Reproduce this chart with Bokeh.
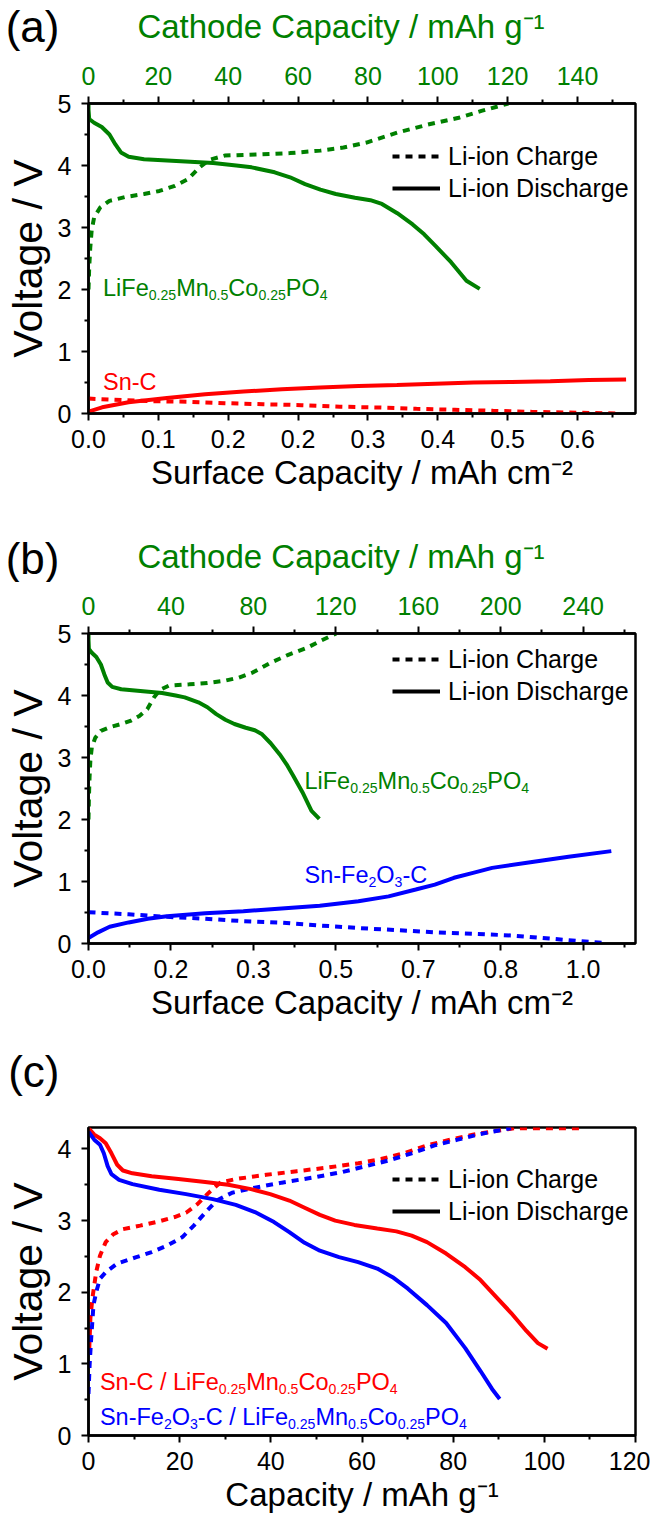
from bokeh.plotting import figure
from bokeh.models import (Range1d, LinearAxis, FixedTicker, PrintfTickFormatter,
                          Label, Legend, LegendItem)
from bokeh.layouts import column
from bokeh.embed import file_html
from bokeh.resources import INLINE

FONT = "Liberation Sans"
GREEN, RED, BLUE = "#008000", "#FF0000", "#0000FF"

# conversion: surface capacity (mAh cm-2) per cathode capacity (mAh g-1)
F = 0.0041

# ---------------- data ----------------
# LiFe0.25Mn0.5Co0.25PO4 half cell (cathode capacity, mAh g-1)
GREEN_DIS_X = [0, 0, 0.2, 1.6, 3.8, 6.0, 7.7, 9.3, 11.5, 15.9, 22.5, 29.1, 35.7, 42.3, 46.7, 53.3,
               57.7, 62.0, 66.4, 70.8, 76.3, 80.7, 84.0, 88.4, 92.8, 96.1, 99.4, 103.8, 108.2, 112.0]
GREEN_DIS_V = [5.0, 4.9, 4.75, 4.69, 4.62, 4.50, 4.34, 4.21, 4.14, 4.10, 4.08, 4.06, 4.04, 4.00, 3.97, 3.89,
               3.81, 3.70, 3.61, 3.54, 3.48, 3.44, 3.38, 3.23, 3.05, 2.89, 2.70, 2.44, 2.14, 2.01]
GREEN_CHG_X = [0, 0.2, 0.5, 0.9, 1.6, 3.3, 6.0, 10.4, 15.9, 20.3, 24.7, 28.5, 31.8, 34.6, 39.0, 48.9,
               57.7, 66.4, 73.0, 79.6, 88.4, 97.2, 106.0, 112.5, 120.2]
GREEN_CHG_V = [2.0, 2.35, 2.67, 2.95, 3.16, 3.32, 3.43, 3.49, 3.54, 3.59, 3.67, 3.78, 3.97, 4.09, 4.16, 4.18,
               4.20, 4.24, 4.29, 4.37, 4.53, 4.66, 4.77, 4.88, 5.0]

# Sn-C half cell (surface capacity, mAh cm-2)
SNC_DIS_X = [0, 0.016, 0.047, 0.092, 0.137, 0.182, 0.227, 0.272, 0.317, 0.362, 0.407, 0.452, 0.497,
             0.542, 0.587, 0.631]
SNC_DIS_V = [0.03, 0.10, 0.18, 0.25, 0.31, 0.355, 0.39, 0.42, 0.445, 0.46, 0.48, 0.50, 0.51, 0.52, 0.54, 0.55]
SNC_CHG_X = [0, 0.025, 0.07, 0.115, 0.16, 0.205, 0.25, 0.295, 0.34, 0.385, 0.43, 0.475, 0.52, 0.565, 0.619]
SNC_CHG_V = [0.24, 0.225, 0.20, 0.19, 0.167, 0.15, 0.135, 0.11, 0.097, 0.075, 0.06, 0.043, 0.027, 0.016, 0.0]

# Sn-Fe2O3-C half cell (surface capacity, mAh cm-2)
SFC_DIS_X = [0, 0.019, 0.042, 0.08, 0.118, 0.156, 0.232, 0.308, 0.384, 0.46, 0.537, 0.597, 0.651, 0.689,
             0.727, 0.765, 0.803, 0.879, 0.955, 1.04]
SFC_DIS_V = [0.09, 0.18, 0.27, 0.34, 0.40, 0.44, 0.486, 0.52, 0.565, 0.61, 0.68, 0.76, 0.87, 0.95,
             1.06, 1.14, 1.22, 1.31, 1.40, 1.49]
SFC_CHG_X = [0, 0.08, 0.156, 0.232, 0.308, 0.384, 0.46, 0.537, 0.613, 0.689, 0.765, 0.841, 0.917, 0.978, 1.023]
SFC_CHG_V = [0.505, 0.47, 0.43, 0.40, 0.36, 0.335, 0.29, 0.25, 0.215, 0.18, 0.156, 0.13, 0.08, 0.038, 0.01]

# Full cells (capacity, mAh g-1)
FC1_DIS_X = [0, 1.26, 2.52, 3.78, 5.03, 6.29, 7.55, 9.65, 13.85, 19.72, 25.59, 30.63, 35.66, 39.86, 44.05,
             47.41, 50.76, 54.12, 58.32, 63.35, 67.55, 70.9, 74.26, 78.45, 82.65, 86.0, 89.36, 92.72, 96.07,
             98.59, 100.7]
FC1_DIS_V = [4.29, 4.20, 4.15, 4.08, 3.94, 3.78, 3.70, 3.66, 3.62, 3.58, 3.54, 3.50, 3.44, 3.37, 3.28,
             3.18, 3.08, 3.00, 2.94, 2.89, 2.85, 2.79, 2.70, 2.54, 2.35, 2.17, 1.94, 1.71, 1.46, 1.29, 1.21]
FC1_CHG_X = [0.17, 0.42, 0.84, 1.68, 2.52, 3.78, 5.45, 7.55, 11.33, 15.5, 18.9, 21.4, 23.9, 26.4, 28.9,
             32.3, 39.0, 45.7, 52.4, 59.2, 64.2, 69.2, 74.3, 79.3, 84.3, 90.2, 93.6, 107.8]
FC1_CHG_V = [1.22, 1.64, 1.91, 2.28, 2.51, 2.70, 2.81, 2.88, 2.93, 2.99, 3.05, 3.11, 3.23, 3.39, 3.53,
             3.58, 3.64, 3.69, 3.74, 3.80, 3.86, 3.94, 4.05, 4.13, 4.20, 4.26, 4.29, 4.29]
FC2_DIS_X = [0, 1.26, 2.52, 3.36, 4.2, 5.03, 6.71, 9.65, 15.52, 21.4, 27.27, 32.31, 36.5, 40.7, 44.05,
             47.41, 50.76, 54.96, 59.16, 63.35, 66.71, 70.07, 74.26, 78.45, 82.65, 86.0, 88.53, 90.21]
FC2_DIS_V = [4.24, 4.13, 4.06, 3.94, 3.76, 3.65, 3.57, 3.51, 3.43, 3.37, 3.30, 3.22, 3.12, 2.98, 2.84,
             2.69, 2.58, 2.49, 2.42, 2.33, 2.21, 2.05, 1.82, 1.57, 1.22, 0.90, 0.65, 0.51]
FC2_CHG_X = [0, 0.25, 0.59, 1.09, 1.68, 2.52, 3.78, 6.29, 10.5, 13.85, 17.2, 20.6, 23.1, 25.6, 28.1, 31.5,
             36.5, 42.4, 49.1, 55.8, 60.8, 65.9, 70.9, 75.9, 81.0, 86.0, 91.0, 92.7]
FC2_CHG_V = [0.58, 0.99, 1.36, 1.82, 2.0, 2.19, 2.28, 2.40, 2.49, 2.56, 2.65, 2.77, 2.93, 3.11, 3.28, 3.39,
             3.46, 3.53, 3.60, 3.68, 3.76, 3.84, 3.94, 4.05, 4.13, 4.21, 4.27, 4.29]

# axes
A_CATH_MAX = 156.6
B_CATH_MAX = 265.4
A_TOP_TICKS = [0, 20, 40, 60, 80, 100, 120, 140]
A_TOP_MINOR = [10, 30, 50, 70, 90, 110, 130, 150]
B_TOP_TICKS = [0, 40, 80, 120, 160, 200, 240]
B_TOP_MINOR = [20, 60, 100, 140, 180, 220, 260]
V_TICKS_AB = [0, 1, 2, 3, 4, 5]
V_MINOR_AB = [0.5, 1.5, 2.5, 3.5, 4.5]
C_X_TICKS = [0, 20, 40, 60, 80, 100, 120]
C_X_MINOR = [10, 30, 50, 70, 90, 110]
C_V_TICKS = [0, 1, 2, 3, 4]
C_V_MINOR = [0.5, 1.5, 2.5, 3.5]

CATHODE = [("LiFe", 0), ("0.25", 1), ("Mn", 0), ("0.5", 1), ("Co", 0), ("0.25", 1), ("PO", 0), ("4", 1)]
TOP_TITLE = "Cathode Capacity / mAh g\u207b\u00b9"

# Arial / Liberation Sans advance widths (1/1000 em)
WID = {" ": 278, "-": 333, ".": 278, "/": 278, "C": 722, "F": 611, "L": 556, "M": 833, "O": 778,
       "P": 667, "S": 667, "a": 556, "c": 500, "e": 556, "i": 222, "n": 556, "o": 556}

LW = 4
DASH = "7 6"
NAN = float("nan")
W = 650
BL, BR = 88, 15   # left / right borders shared by every strip (frames line up in the column)


def tw(s, size):
    return sum(WID.get(c, 556) for c in s) / 1000.0 * size


def rich_label(p, x, y, parts, color, size=23.5, sub_ratio=0.6, drop=7):
    off = 0.0
    for txt, sub in parts:
        fs = size * sub_ratio if sub else size
        p.add_layout(Label(x=x, y=y, x_offset=off, y_offset=-drop if sub else 0, text=txt,
                           text_color=color, text_font=FONT, text_font_size=f"{fs:.1f}px",
                           text_align="left", text_baseline="alphabetic"))
        off += tw(txt, fs)


def style_axis(ax, label, color="black", ticks=None, minor=None, size="33px"):
    ax.axis_label = label
    ax.axis_label_text_font = FONT
    ax.axis_label_text_font_style = "normal"
    ax.axis_label_text_font_size = size
    ax.axis_label_text_color = color
    ax.major_label_text_font = FONT
    ax.major_label_text_font_size = "25px"
    ax.major_label_text_color = color
    ax.axis_line_width = 2.5
    ax.major_tick_line_width = 2
    ax.minor_tick_line_width = 2
    ax.major_tick_in = 0
    ax.major_tick_out = 7
    ax.minor_tick_in = 0
    ax.minor_tick_out = 4
    if ticks is not None:
        ax.ticker = FixedTicker(ticks=ticks, minor_ticks=minor)


def style_volt_axis(ax, ticks, minor):
    style_axis(ax, "Voltage / V", ticks=ticks, minor=minor, size="41px")
    ax.major_label_standoff = 10
    ax.axis_label_standoff = 4


def base_fig(height, top, x_end, y_end, bottom=84):
    p = figure(width=W, height=height, x_range=Range1d(0, x_end), y_range=Range1d(0, y_end),
               output_backend="svg", toolbar_location=None, title=None,
               min_border_left=BL, min_border_right=BR, min_border_top=top, min_border_bottom=bottom)
    p.xgrid.visible = False
    p.ygrid.visible = False
    p.outline_line_color = "black"
    p.outline_line_width = 2.5
    p.outline_line_alpha = 1
    return p


def header(height, letter, title=None):
    """Strip above a panel: panel letter (left-axis label) and the green top-axis title."""
    h = figure(width=W, height=height, x_range=Range1d(0, 1), y_range=Range1d(0, 1),
               output_backend="svg", toolbar_location=None, title=None,
               min_border_left=BL, min_border_right=BR, min_border_top=0, min_border_bottom=0,
               x_axis_location=None, y_axis_location="left")
    h.xgrid.visible = False
    h.ygrid.visible = False
    h.outline_line_color = None
    ax = h.yaxis[0]
    ax.ticker = FixedTicker(ticks=[])
    ax.axis_line_color = None
    ax.major_tick_line_color = None
    ax.minor_tick_line_color = None
    ax.major_tick_out = 0
    ax.major_tick_in = 0
    ax.minor_tick_out = 0
    ax.major_label_standoff = 0
    ax.axis_label = letter
    ax.axis_label_orientation = "horizontal"
    ax.axis_label_text_font = FONT
    ax.axis_label_text_font_style = "normal"
    ax.axis_label_text_font_size = "44px"
    ax.axis_label_text_color = "black"
    ax.axis_label_standoff = 29
    if title:
        h.add_layout(Label(x=348.5 - 8 - BL, y=26.5, x_units="screen", y_units="screen", text=title,
                           text_font=FONT, text_color=GREEN, text_font_size="33px",
                           text_baseline="middle", text_align="center"))
    return h


def add_legend(p, loc):
    r1 = p.line(x=[NAN], y=[NAN], line_color="black", line_width=LW, line_dash=DASH)
    r2 = p.line(x=[NAN], y=[NAN], line_color="black", line_width=LW)
    leg = Legend(items=[LegendItem(label="Li-ion Charge", renderers=[r1]),
                        LegendItem(label="Li-ion Discharge", renderers=[r2])],
                 location=loc, padding=0, margin=0, spacing=2, glyph_width=48, glyph_height=30,
                 label_height=30, label_standoff=8, label_text_font=FONT, label_text_font_size="25px",
                 label_text_color="black", border_line_alpha=0, background_fill_alpha=0)
    p.add_layout(leg, "center")


def half_cell_panel(height, bottom, cath_max, top_ticks, top_minor, legend_loc):
    p = base_fig(height, 51, cath_max * F, 5, bottom=bottom)
    p.extra_x_ranges = {"cath": Range1d(0, cath_max)}
    style_axis(p.xaxis[0], "Surface Capacity / mAh cm\u207b\u00b2",
               ticks=[v * F for v in top_ticks], minor=[v * F for v in top_minor])
    p.xaxis[0].formatter = PrintfTickFormatter(format="%.1f")
    p.xaxis[0].major_label_standoff = 9
    p.xaxis[0].axis_label_standoff = 3
    style_volt_axis(p.yaxis[0], V_TICKS_AB, V_MINOR_AB)
    top_ax = LinearAxis(x_range_name="cath")
    style_axis(top_ax, None, color=GREEN, ticks=top_ticks, minor=top_minor)
    top_ax.axis_line_color = "black"
    top_ax.major_label_standoff = 12
    p.add_layout(top_ax, "above")
    p.line(GREEN_CHG_X, GREEN_CHG_V, x_range_name="cath", line_color=GREEN, line_width=LW, line_dash=DASH)
    p.line(GREEN_DIS_X, GREEN_DIS_V, x_range_name="cath", line_color=GREEN, line_width=LW)
    add_legend(p, legend_loc)
    return p


# ---------------- (a) ----------------
ha = header(52, "(a)", TOP_TITLE)
pa = half_cell_panel(482, 121, A_CATH_MAX, A_TOP_TICKS, A_TOP_MINOR, (304, 210))
pa.line(SNC_CHG_X, SNC_CHG_V, line_color=RED, line_width=LW, line_dash=DASH)
pa.line(SNC_DIS_X, SNC_DIS_V, line_color=RED, line_width=LW)
rich_label(pa, 0.017, 2.03, CATHODE, GREEN)
rich_label(pa, 0.017, 0.51, [("Sn-C", 0)], RED)

# ---------------- (b) ----------------
hb = header(48, "(b)", TOP_TITLE)
pb = half_cell_panel(445, 84, B_CATH_MAX, B_TOP_TICKS, B_TOP_MINOR, (304, 237))
pb.line(SFC_CHG_X, SFC_CHG_V, line_color=BLUE, line_width=LW, line_dash=DASH)
pb.line(SFC_DIS_X, SFC_DIS_V, line_color=BLUE, line_width=LW)
rich_label(pb, 0.4296, 2.62, CATHODE, GREEN)
rich_label(pb, 0.4296, 1.10, [("Sn-Fe", 0), ("2", 1), ("O", 0), ("3", 1), ("-C", 0)], BLUE)

# ---------------- (c) ----------------
hc = header(88, "(c)")
pc = base_fig(400, 12, 120, 4.3, bottom=78)
style_axis(pc.xaxis[0], "Capacity / mAh g\u207b\u00b9", ticks=C_X_TICKS, minor=C_X_MINOR)
pc.xaxis[0].major_label_standoff = 9
pc.xaxis[0].axis_label_standoff = 3
style_volt_axis(pc.yaxis[0], C_V_TICKS, C_V_MINOR)
pc.line(FC1_CHG_X, FC1_CHG_V, line_color=RED, line_width=LW, line_dash=DASH)
pc.line(FC2_CHG_X, FC2_CHG_V, line_color=BLUE, line_width=LW, line_dash=DASH)
pc.line(FC1_DIS_X, FC1_DIS_V, line_color=RED, line_width=LW)
pc.line(FC2_DIS_X, FC2_DIS_V, line_color=BLUE, line_width=LW)
add_legend(pc, (304, 209))
rich_label(pc, 2.5, 0.75, [("Sn-C / ", 0)] + CATHODE, RED)
rich_label(pc, 2.5, 0.26, [("Sn-Fe", 0), ("2", 1), ("O", 0), ("3", 1), ("-C / ", 0)] + CATHODE, BLUE)

layout = column(ha, pa, hb, pb, hc, pc)
open("out.html", "w").write(file_html(layout, INLINE))
